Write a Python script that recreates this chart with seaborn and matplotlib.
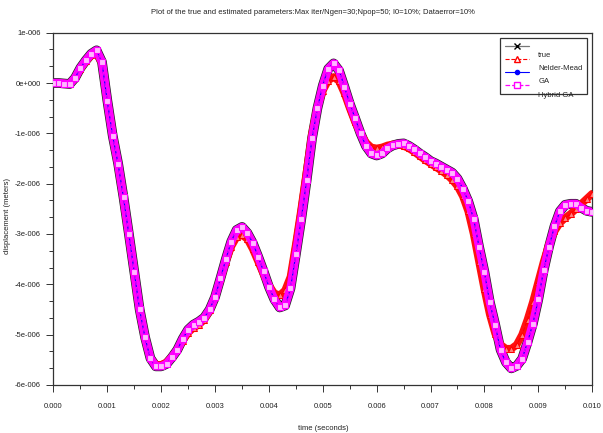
import numpy as np
import pandas as pd
import matplotlib
matplotlib.use("Agg")
import matplotlib.pyplot as plt
import seaborn as sns
from matplotlib.lines import Line2D
from matplotlib.ticker import MultipleLocator, FixedLocator
from matplotlib.transforms import ScaledTranslation

# ---------------- data (displacement in 1e-6 m, sampled every 0.1 ms) -------------
time_s = np.linspace(0.0, 0.01, 101)

true_um = [
    0.00, 0.00, -0.01, -0.02, 0.10, 0.30, 0.45, 0.58, 0.65, 0.42,
    -0.35, -1.05, -1.60, -2.27, -3.00, -3.75, -4.50, -5.05, -5.47, -5.63,
    -5.63, -5.58, -5.45, -5.30, -5.08, -4.90, -4.80, -4.74, -4.66, -4.50,
    -4.25, -3.88, -3.50, -3.15, -2.92, -2.86, -2.98, -3.18, -3.45, -3.74,
    -4.05, -4.30, -4.46, -4.42, -4.08, -3.40, -2.70, -1.93, -1.10, -0.50,
    -0.05, 0.28, 0.39, 0.25, -0.07, -0.41, -0.70, -1.00, -1.25, -1.40,
    -1.44, -1.40, -1.30, -1.24, -1.21, -1.20, -1.25, -1.32, -1.40, -1.47,
    -1.55, -1.60, -1.66, -1.72, -1.78, -1.90, -2.10, -2.35, -2.70, -3.25,
    -3.75, -4.35, -4.80, -5.30, -5.55, -5.67, -5.62, -5.48, -5.15, -4.78,
    -4.30, -3.72, -3.25, -2.85, -2.55, -2.42, -2.40, -2.40, -2.48, -2.54,
    -2.56,
]

nelder_mead_um = [
    0.00, 0.00, -0.01, -0.02, 0.09, 0.28, 0.43, 0.55, 0.60, 0.40,
    -0.36, -1.05, -1.62, -2.30, -3.02, -3.78, -4.52, -5.07, -5.47, -5.60,
    -5.60, -5.55, -5.44, -5.30, -5.12, -4.96, -4.86, -4.80, -4.70, -4.52,
    -4.25, -3.90, -3.55, -3.25, -3.06, -3.02, -3.10, -3.30, -3.55, -3.80,
    -4.02, -4.18, -4.22, -4.12, -3.85, -3.20, -2.50, -1.75, -1.00, -0.48,
    -0.15, 0.05, 0.12, 0.04, -0.20, -0.50, -0.78, -1.00, -1.18, -1.28,
    -1.30, -1.28, -1.24, -1.22, -1.22, -1.25, -1.30, -1.37, -1.45, -1.53,
    -1.60, -1.67, -1.74, -1.82, -1.92, -2.05, -2.25, -2.55, -3.00, -3.55,
    -4.10, -4.60, -4.98, -5.20, -5.28, -5.28, -5.20, -5.00, -4.70, -4.35,
    -3.95, -3.55, -3.20, -2.95, -2.78, -2.68, -2.60, -2.50, -2.40, -2.30,
    -2.20,
]

ga_um = [
    0.00, 0.00, -0.01, -0.02, 0.10, 0.30, 0.45, 0.58, 0.65, 0.41,
    -0.37, -1.06, -1.61, -2.28, -3.01, -3.76, -4.51, -5.06, -5.48, -5.64,
    -5.63, -5.58, -5.45, -5.30, -5.08, -4.90, -4.80, -4.74, -4.66, -4.50,
    -4.25, -3.88, -3.50, -3.15, -2.91, -2.85, -2.98, -3.18, -3.45, -3.74,
    -4.05, -4.30, -4.47, -4.43, -4.08, -3.40, -2.70, -1.93, -1.10, -0.50,
    -0.04, 0.29, 0.40, 0.26, -0.07, -0.41, -0.70, -1.00, -1.25, -1.40,
    -1.44, -1.40, -1.30, -1.24, -1.21, -1.20, -1.25, -1.32, -1.40, -1.47,
    -1.55, -1.60, -1.66, -1.72, -1.78, -1.90, -2.10, -2.35, -2.70, -3.25,
    -3.76, -4.36, -4.81, -5.31, -5.56, -5.68, -5.63, -5.48, -5.15, -4.78,
    -4.30, -3.72, -3.25, -2.85, -2.55, -2.42, -2.40, -2.40, -2.48, -2.54,
    -2.56,
]

hybrid_ga_um = [
    0.00, 0.00, -0.01, -0.02, 0.10, 0.30, 0.45, 0.58, 0.65, 0.42,
    -0.35, -1.05, -1.60, -2.27, -3.00, -3.75, -4.50, -5.05, -5.47, -5.63,
    -5.63, -5.58, -5.45, -5.30, -5.08, -4.90, -4.80, -4.74, -4.66, -4.50,
    -4.25, -3.88, -3.50, -3.15, -2.92, -2.86, -2.98, -3.18, -3.45, -3.74,
    -4.05, -4.30, -4.46, -4.42, -4.08, -3.40, -2.70, -1.93, -1.10, -0.50,
    -0.05, 0.28, 0.39, 0.25, -0.07, -0.41, -0.70, -1.00, -1.25, -1.40,
    -1.44, -1.40, -1.30, -1.24, -1.21, -1.20, -1.25, -1.32, -1.40, -1.47,
    -1.55, -1.60, -1.66, -1.72, -1.78, -1.90, -2.10, -2.35, -2.70, -3.25,
    -3.75, -4.35, -4.80, -5.30, -5.55, -5.67, -5.62, -5.48, -5.15, -4.78,
    -4.30, -3.72, -3.25, -2.85, -2.55, -2.42, -2.40, -2.40, -2.48, -2.54,
    -2.56,
]

series_names = ["true", "Nelder-Mead", "GA", "Hybrid GA"]
x_tick_values = [0.000, 0.001, 0.002, 0.003, 0.004, 0.005, 0.006, 0.007, 0.008, 0.009, 0.010]
x_tick_labels = ["0.000", "0.001", "0.002", "0.003", "0.004", "0.005",
                 "0.006", "0.007", "0.008", "0.009", "0.010"]
y_tick_values = [1e-6, 0.0, -1e-6, -2e-6, -3e-6, -4e-6, -5e-6, -6e-6]
y_tick_labels = ["1e-006", "0e+000", "-1e-006", "-2e-006", "-3e-006",
                 "-4e-006", "-5e-006", "-6e-006"]
title_text = ("Plot of the true and estimated parameters:Max iter/Ngen=30;"
              "Npop=50; I0=10%; Dataerror=10%")

df = pd.DataFrame({
    "time": time_s,
    "true": np.array(true_um) * 1e-6,
    "Nelder-Mead": np.array(nelder_mead_um) * 1e-6,
    "GA": np.array(ga_um) * 1e-6,
    "Hybrid GA": np.array(hybrid_ga_um) * 1e-6,
})

# ---------------- figure ----------------
sns.set_style("white")
plt.rcParams["font.family"] = ["Liberation Sans", "DejaVu Sans"]

fig = plt.figure(figsize=(6.03, 4.33), dpi=100)
ax = fig.add_axes([0.0887, 0.1109, 0.8933, 0.8136])

# broad bands that mimic the very dense marker strings of the original
sns.lineplot(data=df, x="time", y="Nelder-Mead", ax=ax, color="#ff1010",
             linewidth=5.5, zorder=2, legend=False)
sns.lineplot(data=df, x="time", y="true", ax=ax, color="#202020",
             linewidth=7.0, zorder=1, legend=False)
sns.lineplot(data=df, x="time", y="Hybrid GA", ax=ax, color="#ff00ff",
             linewidth=6.0, zorder=4, legend=False)

# the series lines with their markers
sns.lineplot(data=df, x="time", y="true", ax=ax, color="black", linewidth=0.8,
             marker="x", markersize=4, markeredgecolor="black", zorder=3)
sns.lineplot(data=df, x="time", y="Nelder-Mead", ax=ax, color="red",
             linewidth=0.8, linestyle="--", marker="^", markersize=4.5,
             markerfacecolor="#ff8080", markeredgecolor="red", zorder=3)
sns.lineplot(data=df, x="time", y="GA", ax=ax, color="blue", linewidth=0.8,
             marker="o", markersize=2.5, markeredgecolor="blue", zorder=4)
sns.lineplot(data=df, x="time", y="Hybrid GA", ax=ax, color="#ff00ff",
             linewidth=0.8, linestyle="--", marker="s", markersize=5,
             markerfacecolor="#ffb8ff", markeredgecolor="#ff00ff",
             markeredgewidth=0.8, zorder=5)

ax.set_xlim(0.0, 0.01)
ax.set_ylim(-6e-6, 1e-6)
ax.set_xticks(x_tick_values, labels=x_tick_labels)
ax.set_yticks(y_tick_values, labels=y_tick_labels)
ax.xaxis.set_minor_locator(MultipleLocator(0.0005))
ax.yaxis.set_minor_locator(FixedLocator(np.arange(-6e-6, 1.05e-6, 1e-6 / 3)))

ax.tick_params(axis="both", which="both", direction="out", colors="#333333",
               labelcolor="#222222", labelsize=5.5, width=0.7)
ax.tick_params(axis="x", which="major", length=5, pad=8)
ax.tick_params(axis="x", which="minor", length=3)
ax.tick_params(axis="y", which="major", length=5, pad=4)
ax.tick_params(axis="y", which="minor", length=3)
ax.tick_params(bottom=True, left=True, top=False, right=False)
ax.tick_params(which="minor", bottom=True, left=True, top=False, right=False)

for sp in ax.spines.values():
    sp.set_color("#333333")
    sp.set_linewidth(0.9)
    sp.set_visible(True)

ax.set_xlabel("time (seconds)", fontsize=5.5, color="#222222")
ax.set_ylabel("displacement (meters)", fontsize=5.5, color="#222222")
ax.xaxis.set_label_coords(0.5, -0.115)
ax.yaxis.set_label_coords(-0.078, 0.48)

fig.text(0.519, 0.970, title_text, ha="center", va="center", fontsize=5.5,
         color="#222222")

# legend
handles = [
    Line2D([], [], color="#777777", linewidth=0.9, marker="x", markersize=4,
           markeredgecolor="black"),
    Line2D([], [], color="red", linewidth=0.8, linestyle="--", marker="^",
           markersize=4.5, markerfacecolor="white", markeredgecolor="red"),
    Line2D([], [], color="blue", linewidth=0.8, marker="o", markersize=3,
           markeredgecolor="blue"),
    Line2D([], [], color="#ff00ff", linewidth=0.9, linestyle="--", marker="s",
           markersize=4.5, markerfacecolor="white", markeredgecolor="#ff00ff"),
]
leg = ax.legend(handles, series_names, loc="upper right",
                bbox_to_anchor=(0.9907, 0.984), fontsize=5.5, frameon=True,
                fancybox=False, framealpha=1, edgecolor="#333333",
                handlelength=3.2, handletextpad=1.2, labelspacing=0.75,
                borderpad=0.6, borderaxespad=0)
leg.get_frame().set_linewidth(0.9)
leg.set_zorder(10)
for txt in leg.get_texts():
    txt.set_transform(txt.get_transform() +
                      ScaledTranslation(0, -6.5 / 72, fig.dpi_scale_trans))

fig.savefig("out.png", dpi=100)
